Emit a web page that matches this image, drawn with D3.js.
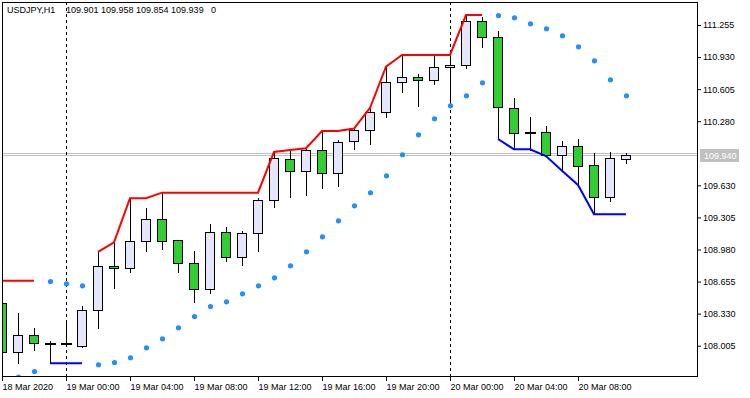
<!DOCTYPE html>
<html>
<head>
<meta charset="utf-8">
<script src="https://cdn.jsdelivr.net/npm/d3@7"></script>
<style>
    html, body { margin: 0; padding: 0; background: #ffffff; }
    svg { display: block; }
    text { font-family: "Liberation Sans", Arial, sans-serif; font-size: 9px; fill: #000000; }
</style>
</head>
<body>
<svg width="750" height="398"></svg>
<script>
// Hourly bars, 18 Mar 20:00 .. 20 Mar 11:00
var times = [
    "18.03 20:00", "18.03 21:00", "18.03 22:00", "18.03 23:00",
    "19.03 00:00", "19.03 01:00", "19.03 02:00", "19.03 03:00", "19.03 04:00", "19.03 05:00",
    "19.03 06:00", "19.03 07:00", "19.03 08:00", "19.03 09:00", "19.03 10:00", "19.03 11:00",
    "19.03 12:00", "19.03 13:00", "19.03 14:00", "19.03 15:00", "19.03 16:00", "19.03 17:00",
    "19.03 18:00", "19.03 19:00", "19.03 20:00", "19.03 21:00", "19.03 22:00", "19.03 23:00",
    "20.03 00:00", "20.03 01:00", "20.03 02:00", "20.03 03:00", "20.03 04:00", "20.03 05:00",
    "20.03 06:00", "20.03 07:00", "20.03 08:00", "20.03 09:00", "20.03 10:00", "20.03 11:00"
];

var opens = [
    108.435, 107.944, 108.111, 108.025, 108.019, 108.005, 108.364, 108.816, 108.790, 109.063,
    109.286, 109.073, 108.840, 108.577, 109.154, 108.907, 109.144, 109.482, 109.894, 109.772,
    109.985, 109.752, 110.076, 110.188, 110.370, 110.674, 110.725, 110.695, 110.826, 110.847,
    111.299, 111.136, 110.411, 110.161, 110.168, 109.938, 110.026, 109.833, 109.509, 109.901
];
var highs = [
    108.435, 108.333, 108.181, 108.053, 108.258, 108.407, 108.958, 109.053, 109.499, 109.397,
    109.556, 109.073, 108.968, 109.235, 109.205, 109.170, 109.502, 109.971, 109.988, 110.006,
    110.181, 110.090, 110.206, 110.414, 110.832, 110.951, 110.758, 110.944, 110.946, 111.356,
    111.333, 111.194, 110.512, 110.320, 110.232, 110.076, 110.097, 109.955, 109.965, 109.958
];
var lows = [
    107.944, 107.833, 107.962, 107.827, 108.002, 107.995, 108.188, 108.587, 108.755, 108.968,
    108.982, 108.755, 108.451, 108.542, 108.863, 108.823, 108.968, 109.414, 109.515, 109.532,
    109.606, 109.627, 110.001, 110.046, 110.320, 110.579, 110.437, 110.654, 110.465, 110.822,
    111.035, 110.100, 109.995, 109.988, 109.927, 109.778, 109.634, 109.337, 109.475, 109.854
];
var closes = [
    107.944, 108.111, 108.029, 108.025, 108.019, 108.364, 108.813, 108.790, 109.063, 109.286,
    109.063, 108.840, 108.577, 109.154, 108.907, 109.144, 109.482, 109.904, 109.772, 109.985,
    109.752, 110.066, 110.188, 110.370, 110.674, 110.725, 110.695, 110.826, 110.847, 111.299,
    111.136, 110.421, 110.158, 110.161, 109.938, 110.026, 109.829, 109.509, 109.904, 109.939
];

// Indicator lines (null = not drawn)
var upperLine = [
    108.664, 108.664, 108.664, null, null, null, 108.955, 109.053, 109.499, 109.499,
    109.556, 109.556, 109.556, 109.556, 109.556, 109.556, 109.556, 109.968, 109.988, 110.006,
    110.181, 110.181, 110.206, 110.414, 110.832, 110.951, 110.951, 110.951, 110.951, 111.356,
    111.356, null, null, null, null, null, null, null, null, null
];
var lowerLine = [
    null, null, null, 107.827, 107.827, 107.827, null, null, null, null,
    null, null, null, null, null, null, null, null, null, null,
    null, null, null, null, null, null, null, null, null, null,
    null, 110.100, 109.995, 109.995, 109.927, 109.778, 109.634, 109.337, 109.337, 109.337
];
var sarValues = [
    null, 107.691, 107.749, 108.661, 108.637, 108.617, 107.817, 107.840, 107.888, 107.989,
    108.080, 108.192, 108.306, 108.407, 108.455, 108.536, 108.617, 108.698, 108.820, 108.962,
    109.114, 109.276, 109.428, 109.560, 109.732, 109.945, 110.147, 110.310, 110.441, 110.543,
    110.674, 111.356, 111.333, 111.272, 111.222, 111.151, 111.039, 110.897, 110.705, 110.543
];

var priceTicks = [111.255, 110.930, 110.605, 110.280, 109.630, 109.305, 108.980, 108.655, 108.330, 108.005];
var timeTicks = ["18.03 20:00", "19.03 00:00", "19.03 04:00", "19.03 08:00", "19.03 12:00",
    "19.03 16:00", "19.03 20:00", "20.03 00:00", "20.03 04:00", "20.03 08:00"];
var timeTickLabels = ["18 Mar 2020", "19 Mar 00:00", "19 Mar 04:00", "19 Mar 08:00", "19 Mar 12:00",
    "19 Mar 16:00", "19 Mar 20:00", "20 Mar 00:00", "20 Mar 04:00", "20 Mar 08:00"];
var daySeparators = ["19.03 00:00", "20.03 00:00"];

var symbolLabel = "USDJPY,H1";
var headerOhlc = "109.901 109.958 109.854 109.939";
var headerVolume = "0";
var bidPrice = 109.940;
var askPrice = 109.956;

(function () {
    "use strict";

    var bullColor = '#e6e6fa';
    var bearColor = '#32cd32';

    var svg = d3.select('svg');
    var left = 2, top = 2, right = 697, bottom = 377;

    var x = d3.scalePoint()
        .domain(times)
        .range([2, 626]);

    var y = d3.scaleLinear()
        .domain([107.688, 111.488])
        .range([bottom, top]);

    // Clip everything drawn inside the chart window
    svg.append('clipPath')
        .attr('id', 'plot-clip')
        .append('rect')
        .attr('x', left)
        .attr('y', top)
        .attr('width', right - left)
        .attr('height', bottom - top);

    var plot = svg.append('g').attr('clip-path', 'url(#plot-clip)');

    // Bid / ask lines
    [askPrice, bidPrice].forEach(function (p) {
        plot.append('line')
            .attr('x1', left).attr('x2', right)
            .attr('y1', Math.round(y(p)) + 0.5).attr('y2', Math.round(y(p)) + 0.5)
            .attr('stroke', '#c0c0c0')
            .attr('stroke-width', 1);
    });

    // Period separators
    daySeparators.forEach(function (t) {
        plot.append('line')
            .attr('x1', x(t) + 0.5).attr('x2', x(t) + 0.5)
            .attr('y1', top).attr('y2', bottom)
            .attr('stroke', '#000000')
            .attr('stroke-width', 1)
            .attr('stroke-dasharray', '3,3');
    });

    var bars = times.map(function (t, i) {
        return { time: t, open: opens[i], high: highs[i], low: lows[i], close: closes[i] };
    });

    // Wicks
    plot.selectAll('line.wick')
        .data(bars)
        .enter()
        .append('line')
        .attr('class', 'wick')
        .attr('x1', function (d) { return x(d.time) + 0.5; })
        .attr('x2', function (d) { return x(d.time) + 0.5; })
        .attr('y1', function (d) { return Math.round(y(d.high)); })
        .attr('y2', function (d) { return Math.round(y(d.low)) + 1; })
        .attr('stroke', '#000000')
        .attr('stroke-width', 1);

    // Bodies
    var bodies = bars.filter(function (d) { return d.open !== d.close; });
    plot.selectAll('rect.body')
        .data(bodies)
        .enter()
        .append('rect')
        .attr('class', 'body')
        .attr('x', function (d) { return x(d.time) - 4.5; })
        .attr('y', function (d) { return Math.round(y(Math.max(d.open, d.close))) + 0.5; })
        .attr('width', 9)
        .attr('height', function (d) {
            return Math.max(1, Math.round(y(Math.min(d.open, d.close))) - Math.round(y(Math.max(d.open, d.close))));
        })
        .attr('fill', function (d) { return d.close > d.open ? bullColor : bearColor; })
        .attr('stroke', '#000000')
        .attr('stroke-width', 1);

    // Doji bars
    plot.selectAll('rect.doji')
        .data(bars.filter(function (d) { return d.open === d.close; }))
        .enter()
        .append('rect')
        .attr('class', 'doji')
        .attr('x', function (d) { return x(d.time) - 5; })
        .attr('y', function (d) { return Math.round(y(d.close)) - 1; })
        .attr('width', 11)
        .attr('height', 2)
        .attr('fill', '#000000');

    // Indicator lines
    function drawLine(values, color) {
        var line = d3.line()
            .defined(function (d) { return d.v !== null; })
            .x(function (d) { return x(d.t); })
            .y(function (d) { return y(d.v); });

        plot.append('path')
            .datum(times.map(function (t, i) { return { t: t, v: values[i] }; }))
            .attr('fill', 'none')
            .attr('stroke', color)
            .attr('stroke-width', 2)
            .attr('d', line);
    }
    drawLine(upperLine, '#ff0000');
    drawLine(lowerLine, '#0000ff');

    // Parabolic SAR dots
    plot.selectAll('circle.sar')
        .data(times.map(function (t, i) { return { t: t, v: sarValues[i] }; })
            .filter(function (d) { return d.v !== null; }))
        .enter()
        .append('circle')
        .attr('class', 'sar')
        .attr('cx', function (d) { return x(d.t) + 0.5; })
        .attr('cy', function (d) { return y(d.v) + 0.5; })
        .attr('r', 2.6)
        .attr('fill', '#1e90ff');

    // Chart frame
    svg.append('rect')
        .attr('x', left + 0.5)
        .attr('y', top + 0.5)
        .attr('width', right - left)
        .attr('height', bottom - top - 1)
        .attr('fill', 'none')
        .attr('stroke', '#000000')
        .attr('stroke-width', 1);

    // Price axis
    var yAxis = svg.append('g')
        .attr('transform', 'translate(' + right + ',0)')
        .call(d3.axisRight(y)
            .tickValues(priceTicks)
            .tickFormat(d3.format('.3f'))
            .tickSize(4)
            .tickPadding(2));
    yAxis.select('.domain').remove();
    yAxis.selectAll('text').style('font-size', '9px').style('font-family', '"Liberation Sans", Arial, sans-serif');

    // Time axis
    var xAxis = svg.append('g')
        .attr('transform', 'translate(0,' + (bottom - 1) + ')')
        .call(d3.axisBottom(x)
            .tickValues(timeTicks)
            .tickFormat(function (d, i) { return timeTickLabels[i]; })
            .tickSize(5)
            .tickPadding(3));
    xAxis.select('.domain').remove();
    xAxis.selectAll('text')
        .attr('text-anchor', 'start')
        .style('font-size', '9px')
        .style('font-family', '"Liberation Sans", Arial, sans-serif');

    // Current price tag
    var tagY = Math.round(y(bidPrice));
    svg.append('rect')
        .attr('x', 700)
        .attr('y', tagY - 6)
        .attr('width', 39)
        .attr('height', 13)
        .attr('fill', '#c0c0c0');
    svg.append('text')
        .attr('x', 704)
        .attr('y', tagY + 3.5)
        .style('fill', '#ffffff')
        .text(d3.format('.3f')(bidPrice));

    // Header
    var header = svg.append('text').attr('y', 13);
    header.append('tspan').attr('x', 7).text(symbolLabel);
    header.append('tspan').attr('x', 66).text(headerOhlc);
    header.append('tspan').attr('x', 211).text(headerVolume);
})();
</script>
</body>
</html>
